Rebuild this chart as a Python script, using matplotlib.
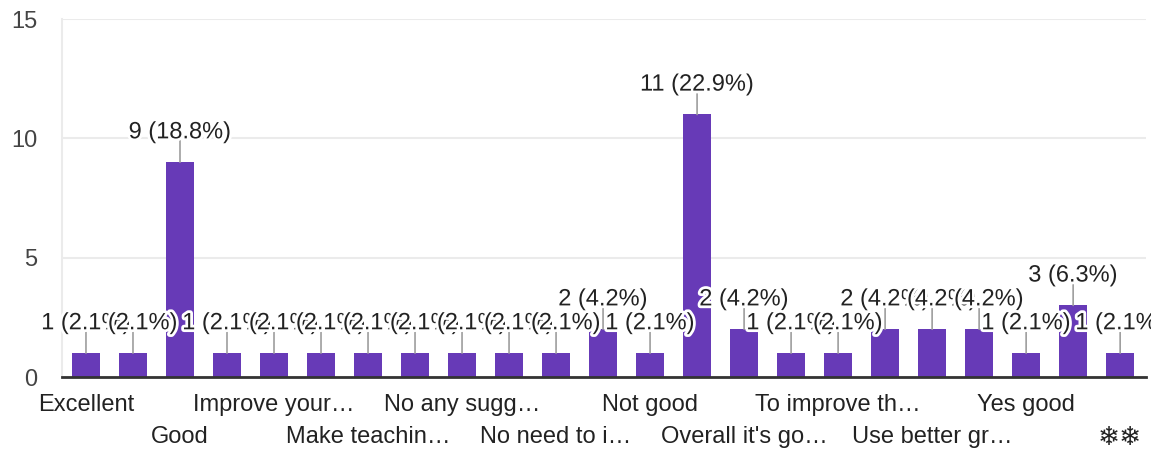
import math
import matplotlib
matplotlib.use("Agg")
import matplotlib.pyplot as plt
import matplotlib.patheffects as pe

plt.rcParams['font.family'] = ['Liberation Sans', 'DejaVu Sans']

# only every other category name is shown on the axis; hidden ones left blank
categories = ["Excellent", "", "Good", "", "Improve your…", "", "Make teachin…", "",
              "No any sugg…", "", "No need to i…", "", "Not good", "",
              "Overall it's go…", "", "To improve th…", "", "Use better gr…", "",
              "Yes good", "", "❄❄"]
counts = [1, 1, 9, 1, 1, 1, 1, 1, 1, 1, 1, 2, 1, 11, 2, 1, 1, 2, 2, 2, 1, 3, 1]
yticks = [0, 5, 10, 15]

total = sum(counts)
bar_color = "#673ab7"

fig = plt.figure(figsize=(11.51, 4.51), dpi=100)
ax = fig.add_axes([62 / 1151, 1 - 377 / 451, (1146 - 62) / 1151, (377 - 19) / 451])

x = list(range(len(counts)))
ax.bar(x, counts, width=0.6, color=bar_color, zorder=2)

# labels with leader lines
for i, v in enumerate(counts):
    ax.annotate("", xy=(i, v), xytext=(0, 16.5), textcoords="offset points",
                arrowprops=dict(arrowstyle="-", color="#9e9e9e", lw=1.2,
                                shrinkA=0, shrinkB=0), zorder=3)
for i, v in enumerate(counts):
    pct = math.floor(1000 * v / total + 0.5) / 10
    t = ax.annotate(f"{v} ({pct:.1f}%)", xy=(i, v), xytext=(0, 21.5),
                    textcoords="offset points", ha="center", va="center",
                    fontsize=17, color="#222222", zorder=4)
    t.set_path_effects([pe.withStroke(linewidth=4, foreground="white")])

ax.set_xlim(-0.51, 22.55)
ax.set_ylim(0, 15)
ax.set_yticks(yticks)
ax.set_yticklabels([str(t) for t in yticks], fontsize=17, color="#444444")
ax.grid(axis="y", color="#ebebeb", lw=1.5, zorder=0)
ax.set_axisbelow(True)

ax.set_xticks(x)
ax.set_xticklabels(categories, fontsize=17, color="#222222")
for i, tick in enumerate(ax.xaxis.get_major_ticks()):
    tick.set_pad(12 if (i // 2) % 2 == 0 else 35.5)
ax.get_xticklabels()[-1].set_fontsize(19)

ax.tick_params(axis="both", length=0)
ax.tick_params(axis="y", pad=17.5)

for s in ["top", "right"]:
    ax.spines[s].set_visible(False)
ax.spines["left"].set_color("#ebebeb")
ax.spines["left"].set_linewidth(1.5)
ax.spines["bottom"].set_color("#333333")
ax.spines["bottom"].set_linewidth(2)
ax.spines["bottom"].set_zorder(5)

fig.savefig("out.png", dpi=100)
